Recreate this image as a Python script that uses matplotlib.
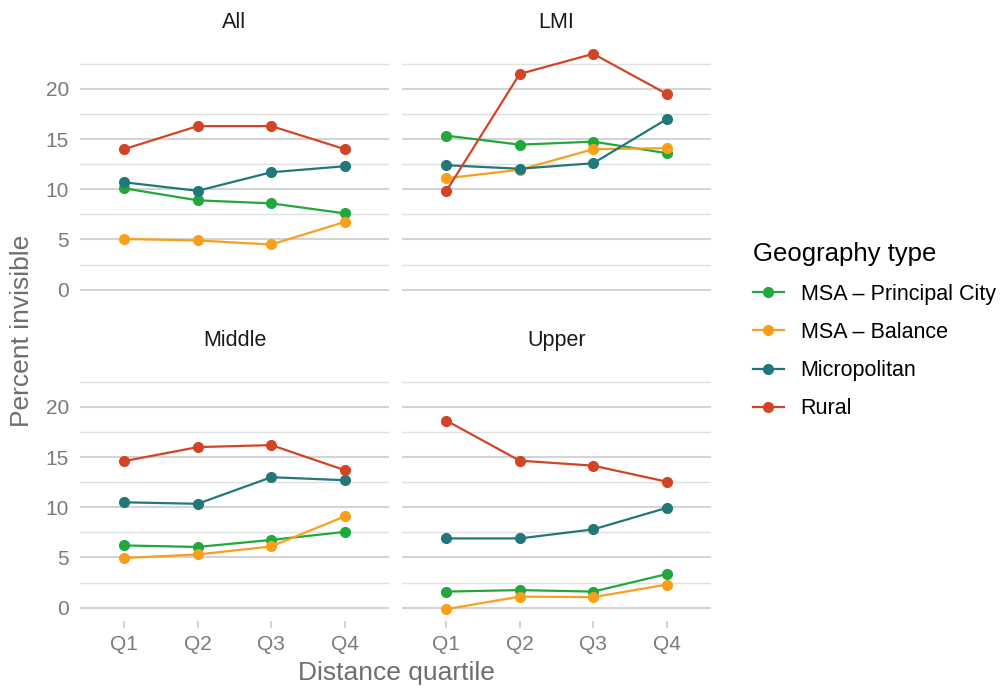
import numpy as np
import matplotlib
matplotlib.use("Agg")
import matplotlib.pyplot as plt
from matplotlib.lines import Line2D

plt.rcParams['font.family'] = ['Liberation Sans', 'DejaVu Sans']

quartiles = ['Q1', 'Q2', 'Q3', 'Q4']
panels = ['All', 'LMI', 'Middle', 'Upper']
geo_types = ['MSA – Principal City', 'MSA – Balance', 'Micropolitan', 'Rural']
colors = ['#20a83c', '#fa9f1c', '#21777a', '#d24426']

# percent invisible per panel, per geography type (Q1..Q4)
msa_pc = {'All': [10.1, 8.9, 8.6, 7.6], 'LMI': [15.35, 14.45, 14.75, 13.6],
          'Middle': [6.2, 6.05, 6.75, 7.55], 'Upper': [1.6, 1.75, 1.6, 3.35]}
msa_bal = {'All': [5.05, 4.9, 4.5, 6.75], 'LMI': [11.1, 11.95, 14.0, 14.1],
           'Middle': [4.95, 5.3, 6.1, 9.1], 'Upper': [-0.15, 1.1, 1.05, 2.3]}
micro = {'All': [10.7, 9.85, 11.7, 12.3], 'LMI': [12.4, 12.05, 12.6, 17.0],
         'Middle': [10.5, 10.35, 13.0, 12.7], 'Upper': [6.9, 6.9, 7.8, 9.95]}
rural = {'All': [14.0, 16.3, 16.3, 14.0], 'LMI': [9.8, 21.5, 23.5, 19.5],
         'Middle': [14.6, 16.0, 16.2, 13.7], 'Upper': [18.65, 14.65, 14.15, 12.55]}
series = [msa_pc, msa_bal, micro, rural]

fig = plt.figure(figsize=(10.08, 6.88), dpi=100)
W, H = 1008, 688
boxes = {'All': (80, 42, 309, 261), 'LMI': (402, 42, 309, 261),
         'Middle': (80, 360, 309, 261), 'Upper': (402, 360, 309, 261)}

grid_major = '#d4d4d4'
tick_col = '#7a7a7a'
x = np.arange(1, 5)

for p in panels:
    l, t, w, h = boxes[p]
    ax = fig.add_axes([l / W, 1 - (t + h) / H, w / W, h / H])
    for s, c in zip(series, colors):
        ax.plot(x, s[p], color=c, lw=1.6, marker='o', ms=7, zorder=3)
    ax.set_xlim(0.4, 4.6)
    ax.set_ylim(-1.33, 24.68)
    ax.set_yticks([0, 5, 10, 15, 20])
    ax.set_yticks([2.5, 7.5, 12.5, 17.5, 22.5], minor=True)
    ax.grid(axis='y', which='major', color=grid_major, lw=1.5)
    ax.grid(axis='y', which='minor', color='#e0e0e0', lw=1.0)
    ax.set_axisbelow(True)
    for sp in ax.spines.values():
        sp.set_visible(False)
    ax.set_xticks(x)
    ax.tick_params(axis='y', which='both', length=0, labelsize=15,
                   labelcolor=tick_col, pad=8)
    ax.tick_params(axis='x', length=5, color='#cccccc', width=1.2,
                   labelsize=15, labelcolor=tick_col, pad=5)
    if p in ('All', 'Middle'):
        ax.set_yticklabels(['0', '5', '10', '15', '20'])
    else:
        ax.set_yticklabels([])
    if p in ('Middle', 'Upper'):
        ax.set_xticklabels(quartiles)
    else:
        ax.tick_params(axis='x', length=0, labelbottom=False)
    ax.set_title(p, fontsize=15.5, color='#1a1a1a', pad=10)

fig.text(22 / W, 1 - 331 / H, 'Percent invisible', rotation=90, fontsize=19,
         color='#6e6e6e', ha='center', va='center')
fig.text(396 / W, 1 - 673 / H, 'Distance quartile', fontsize=19,
         color='#6e6e6e', ha='center', va='center')

handles = [Line2D([], [], color=c, lw=1.6, marker='o', ms=7) for c in colors]
leg = fig.legend(handles, geo_types, loc='upper left',
                 bbox_to_anchor=(734 / W, 1 - 223 / H), frameon=False,
                 title='Geography type', fontsize=15.5, title_fontsize=18.5,
                 handlelength=1.4, labelspacing=0.8, handletextpad=0.8)
leg._legend_box.align = 'left'

fig.savefig('out.png', dpi=100)
